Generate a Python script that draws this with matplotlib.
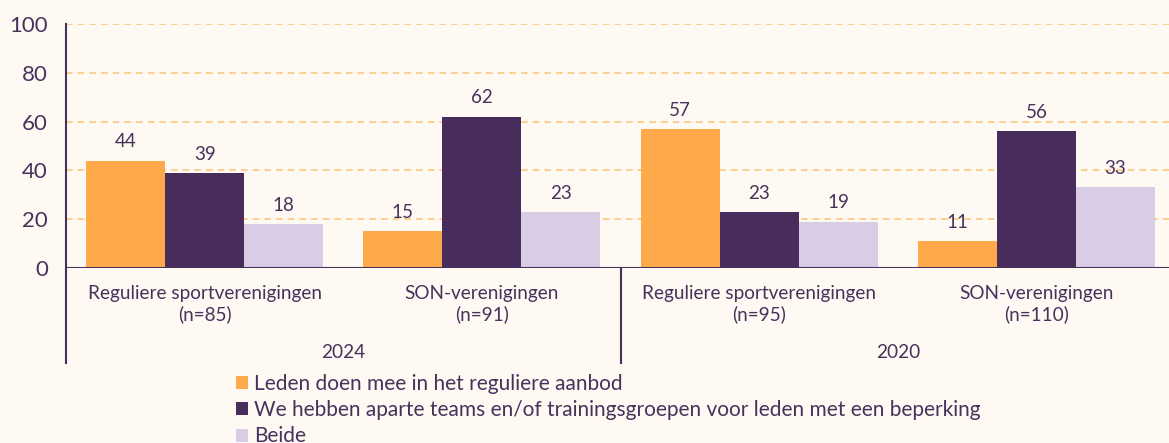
import matplotlib
matplotlib.use("Agg")
import matplotlib.pyplot as plt
from matplotlib.patches import Patch
import numpy as np

plt.rcParams['font.family'] = ['Lato', 'DejaVu Sans']

categories = ["Reguliere sportverenigingen\n(n=85)", "SON-verenigingen\n(n=91)",
              "Reguliere sportverenigingen\n(n=95)", "SON-verenigingen\n(n=110)"]
years = ["2024", "2020"]
series_names = ["Leden doen mee in het reguliere aanbod",
                "We hebben aparte teams en/of trainingsgroepen voor leden met een beperking",
                "Beide"]
leden = [44, 15, 57, 11]
apart = [39, 62, 23, 56]
beide = [18, 23, 19, 33]
yticks = [0, 20, 40, 60, 80, 100]

colors = ["#FFAA4A", "#472C5C", "#D9CCE5"]
text_color = "#47325C"
bg = "#FEF9F3"

W, H = 1169, 443
fig = plt.figure(figsize=(W/100, H/100), dpi=100, facecolor=bg)
ax_left, ax_right, ax_top, ax_bot = 66, 1169, 24, 268
ax = fig.add_axes([ax_left/W, 1-ax_bot/H, (ax_right-ax_left)/W, (ax_bot-ax_top)/H])
ax.set_facecolor(bg)

x = np.arange(len(categories))
bw = 0.285
for i, (vals, c) in enumerate(zip([leden, apart, beide], colors)):
    pos = x + (i-1)*bw
    ax.bar(pos, vals, width=bw, color=c, zorder=3)
    for p, v in zip(pos, vals):
        ax.annotate(str(v), (p, v), xytext=(0, 13.5), textcoords='offset points',
                    ha='center', va='center', fontsize=13.5, color=text_color)

ax.set_xlim(-0.5, 3.478)
ax.set_ylim(0, 100)
ax.set_yticks(yticks)
ax.set_yticklabels([str(t) for t in yticks], fontsize=16, color=text_color)
ax.tick_params(axis='y', length=0, pad=13)
ax.set_xticks([])
for t in yticks[1:]:
    ax.axhline(t, color="#FFC780", lw=1.2, ls=(0, (4, 3)), zorder=1)
for s in ['top', 'right', 'bottom']:
    ax.spines[s].set_visible(False)
ax.spines['left'].set_color(text_color)
ax.spines['left'].set_linewidth(1.5)
ax.axhline(0, color=text_color, lw=1.5, zorder=4)

tr = ax.get_xaxis_transform()
ph = ax_bot - ax_top
def ay(py):
    return (ax_bot - py) / ph

for xi, lab in zip(x, categories):
    ax.text(xi, ay(304), lab, transform=tr, ha='center', va='center',
            fontsize=13.7, color=text_color, linespacing=1.2)
for gi, yr in enumerate(years):
    ax.text(0.5 + 2*gi, ay(352), yr, transform=tr, ha='center', va='center',
            fontsize=13.7, color=text_color)
for xv in [-0.5, 1.5]:
    ax.plot([xv, xv], [0, ay(363)], transform=tr, color=text_color, lw=1.5, clip_on=False)

handles = [Patch(facecolor=c, edgecolor='none') for c in colors]
leg = fig.legend(handles, series_names, loc='upper left',
                 bbox_to_anchor=(236/W, 1-374/H), frameon=False,
                 fontsize=15.0, handlelength=0.58, handleheight=0.58,
                 handletextpad=0.3, labelspacing=0.3, borderpad=0, borderaxespad=0)
for t in leg.get_texts():
    t.set_color(text_color)

fig.savefig("out.png", dpi=100, facecolor=bg)
